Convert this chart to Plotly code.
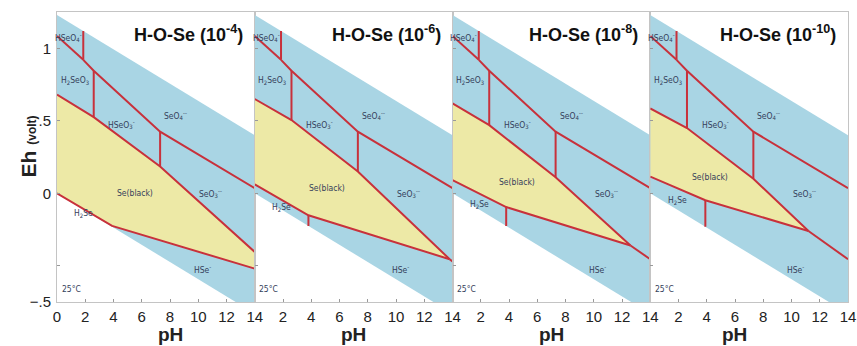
import plotly.graph_objects as go

# ---------------- data ----------------
conc_labels = ["-4", "-6", "-8", "-10"]
ph_ticks_first = [0, 2, 4, 6, 8, 10, 12, 14]
ph_ticks_other = [2, 4, 6, 8, 10, 12, 14]
eh_tickvals = [-0.75, -0.5, 0, 0.5, 1]
eh_ticktext = ["−.5", "", "0", ".5", "1"]

# water stability limits (pH 0 and pH 14)
water_ph = [0, 14]
water_top = [1.23, 0.40]
water_bot = [0.0, -0.83]

# concentration-independent boundaries (Se(VI)/Se(IV))
hseo4_ph = [0, 1.86]
hseo4_eh = [1.085, 0.92]
seo4_ph = [1.86, 2.6, 7.3, 14]
seo4_eh = [0.92, 0.845, 0.425, 0.035]
pka_hseo4 = 1.86
pka1_h2seo3 = 2.6
pka2_h2seo3 = 7.3
pka_h2se = 3.9

# Se(black) upper boundary per panel
se_up_ph = [[0, 2.6, 7.3, 14], [0, 2.6, 7.3, 13.8], [0, 2.6, 7.3, 12.6], [0, 2.6, 7.3, 11.2]]
se_up_eh = [[0.68, 0.525, 0.185, -0.405], [0.65, 0.505, 0.15, -0.455],
            [0.62, 0.47, 0.11, -0.36], [0.585, 0.45, 0.10, -0.26]]
# Se(black) lower boundary per panel
se_lo_ph = [[0, 3.9, 14], [0, 3.8, 13.8], [0, 3.8, 12.6], [0, 3.9, 11.2]]
se_lo_eh = [[0.0, -0.225, -0.52], [0.062, -0.152, -0.455],
            [0.09, -0.095, -0.36], [0.115, -0.048, -0.26]]
# SeO3--/HSe- boundary end at pH 14 (None = absent)
seo3_hse_end = [None, -0.47, -0.455, -0.455]

# ---------------- style ----------------
BLUE = "#a9d5e4"
YELLOW = "#ede9a6"
RED = "#c8313b"
TXT = "#34405a"
FRAME = "#c4c4c4"
FONT = "Liberation Sans, Arial, sans-serif"

fig = go.Figure()

def interp(xs, ys, x):
    for i in range(len(xs) - 1):
        if xs[i] <= x <= xs[i + 1]:
            t = (x - xs[i]) / (xs[i + 1] - xs[i])
            return ys[i] + t * (ys[i + 1] - ys[i])
    return ys[-1]

annotations = []
for k in range(4):
    xa = "x" if k == 0 else f"x{k+1}"
    ya = "y" if k == 0 else f"y{k+1}"
    # water field
    fig.add_trace(go.Scatter(
        x=[water_ph[0], water_ph[1], water_ph[1], water_ph[0]],
        y=[water_top[0], water_top[1], water_bot[1], water_bot[0]],
        fill="toself", fillcolor=BLUE, mode="lines", line=dict(width=0),
        xaxis=xa, yaxis=ya, hoverinfo="skip", showlegend=False))
    # Se(black) field
    up_x, up_y = se_up_ph[k], se_up_eh[k]
    lo_x, lo_y = se_lo_ph[k], se_lo_eh[k]
    fig.add_trace(go.Scatter(
        x=up_x + lo_x[::-1], y=up_y + lo_y[::-1],
        fill="toself", fillcolor=YELLOW, mode="lines", line=dict(width=0),
        xaxis=xa, yaxis=ya, hoverinfo="skip", showlegend=False))

    def red(xs, ys):
        fig.add_trace(go.Scatter(x=xs, y=ys, mode="lines",
                                 line=dict(color=RED, width=2),
                                 xaxis=xa, yaxis=ya, hoverinfo="skip",
                                 showlegend=False, cliponaxis=True))

    red(up_x, up_y)
    red(lo_x, lo_y)
    red(hseo4_ph, hseo4_eh)
    red(seo4_ph, seo4_eh)
    wt = interp(water_ph, water_top, pka_hseo4)
    red([pka_hseo4, pka_hseo4], [wt, hseo4_eh[-1]])
    red([pka1_h2seo3, pka1_h2seo3], [interp(seo4_ph, seo4_eh, pka1_h2seo3), interp(up_x, up_y, pka1_h2seo3)])
    red([pka2_h2seo3, pka2_h2seo3], [interp(seo4_ph, seo4_eh, pka2_h2seo3), interp(up_x, up_y, pka2_h2seo3)])
    kink_eh = lo_y[1]
    wb = interp(water_ph, water_bot, lo_x[1])
    if kink_eh - wb > 0.02:
        red([lo_x[1], lo_x[1]], [kink_eh, wb])
    if seo3_hse_end[k] is not None:
        red([up_x[-1], 14], [up_y[-1], seo3_hse_end[k]])

    # species labels
    sebl = [(5.5, 0.0), (5.1, 0.035), (4.6, 0.075), (4.2, 0.11)][k]
    h2se = [(1.9, -0.14), (1.9, -0.10), (1.9, -0.075), (1.9, -0.05)][k]
    labels = [
        ("HSeO<sub>4</sub><sup>-</sup>", 0.8, 1.08),
        ("H<sub>2</sub>SeO<sub>3</sub>", 1.25, 0.78),
        ("HSeO<sub>3</sub><sup>-</sup>", 4.6, 0.48),
        ("SeO<sub>4</sub><sup>--</sup>", 8.4, 0.54),
        ("Se(black)", sebl[0], sebl[1]),
        ("SeO<sub>3</sub><sup>--</sup>", 10.9, 0.0),
        ("H<sub>2</sub>Se", h2se[0], h2se[1]),
        ("HSe<sup>-</sup>", 10.3, -0.52),
        ("25°C", 1.0, -0.66),
    ]
    for t, lx, ly in labels:
        annotations.append(dict(text=t, x=lx, y=ly, xref=xa, yref=ya,
                                showarrow=False, font=dict(size=8.5, color=TXT,
                                family="Liberation Sans Narrow, Arial Narrow, DejaVu Sans Condensed, sans-serif")))
    annotations.append(dict(text=f"<b>H-O-Se (10<sup>{conc_labels[k]}</sup>)</b>",
                            x=13.3, y=1.10, xref=xa, yref=ya, xanchor="right",
                            showarrow=False, font=dict(size=18, color="#111", family=FONT)))
    annotations.append(dict(text="<b>pH</b>", x=(k + 0.5) / 4, y=-0.155, xref="paper",
                            yref="paper", showarrow=False, yanchor="bottom",
                            font=dict(size=19, color="#222", family=FONT)))

annotations.append(dict(text="<b>Eh <span style='font-size:12px'>(volt)</span></b>",
                        x=-0.053, y=0.535, xref="paper", yref="paper", textangle=-90,
                        showarrow=False, font=dict(size=21, color="#222", family=FONT)))

layout = dict(
    width=857, height=346,
    margin=dict(l=57, r=9, t=12, b=44, autoexpand=False),
    paper_bgcolor="white", plot_bgcolor="white",
    annotations=annotations, showlegend=False,
)
for k in range(4):
    xk = "xaxis" if k == 0 else f"xaxis{k+1}"
    yk = "yaxis" if k == 0 else f"yaxis{k+1}"
    layout[xk] = dict(domain=[k / 4, (k + 1) / 4], range=[0, 14],
                      tickvals=ph_ticks_first if k == 0 else ph_ticks_other,
                      ticks="inside", ticklen=3, tickcolor="#999", automargin=False,
                      ticklabelstandoff=1,
                      showline=True, linecolor=FRAME, mirror=True, showgrid=False,
                      zeroline=False, anchor="y" if k == 0 else f"y{k+1}",
                      tickfont=dict(size=15, color="#222", family=FONT))
    layout[yk] = dict(domain=[0, 1], range=[-0.75, 1.25],
                      tickvals=eh_tickvals, ticktext=eh_ticktext,
                      ticks="inside", ticklen=3, tickcolor="#999", automargin=False,
                      ticklabelstandoff=2,
                      showticklabels=(k == 0),
                      showline=True, linecolor=FRAME, mirror=True, showgrid=False,
                      zeroline=False, anchor="x" if k == 0 else f"x{k+1}",
                      tickfont=dict(size=15, color="#222", family=FONT))
fig.update_layout(**layout)
fig.write_html("out.html", config={"displayModeBar": False},
               post_script="document.body.style.margin='0px';")
